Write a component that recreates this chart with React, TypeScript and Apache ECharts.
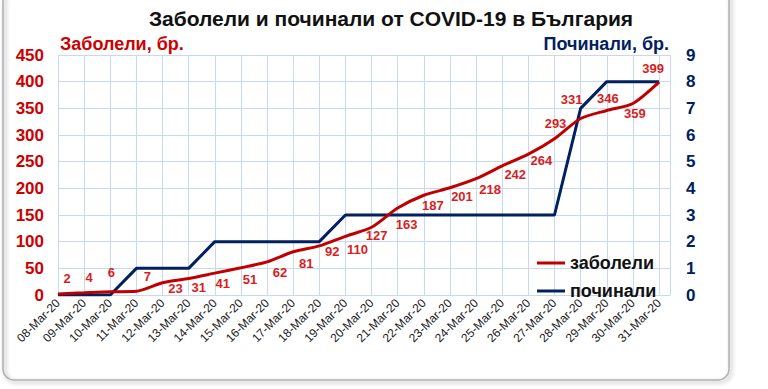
import React, { useEffect, useRef } from "react";
import * as echarts from "echarts";

const categories = [
  "08-Mar-20", "09-Mar-20", "10-Mar-20", "11-Mar-20", "12-Mar-20", "13-Mar-20",
  "14-Mar-20", "15-Mar-20", "16-Mar-20", "17-Mar-20", "18-Mar-20", "19-Mar-20",
  "20-Mar-20", "21-Mar-20", "22-Mar-20", "23-Mar-20", "24-Mar-20", "25-Mar-20",
  "26-Mar-20", "27-Mar-20", "28-Mar-20", "29-Mar-20", "30-Mar-20", "31-Mar-20",
];
const infected = [2, 4, 6, 7, 23, 31, 41, 51, 62, 81, 92, 110, 127, 163, 187, 201, 218, 242, 264, 293, 331, 346, 359, 399];
const deaths = [0, 0, 0, 1, 1, 1, 2, 2, 2, 2, 2, 3, 3, 3, 3, 3, 3, 3, 3, 3, 7, 8, 8, 8];
const leftTicks = { min: 0, max: 450, interval: 50 };
const rightTicks = { min: 0, max: 9, interval: 1 };
// label offsets (pixels) for the infected values
const labelOffsets = [
  [9, -15], [5, -15], [1, -19], [11, -15], [13, 6], [10, 9], [8, 10], [9, 12],
  [13, 11], [13, 12], [13, 6], [12, 13], [5, 8], [9, 16], [9, 10], [12, 9],
  [14, 11], [13, 9], [13, 6], [1, -15], [-9, -19], [1, -12], [2, 10], [-6, -14],
];

const RED = "#c00000";
const NAVY = "#002060";
const FONT = "'Liberation Sans', Arial, sans-serif";

export default function App() {
  const ref = useRef<HTMLDivElement>(null);
  useEffect(() => {
    if (!ref.current) return;
    const chart = echarts.init(ref.current, undefined, { renderer: "svg" });
    const gridLeft = 58;
    const gridRight = 98;
    const xMax = 23.42;
    chart.setOption({
      animation: false,
      backgroundColor: "#ffffff",
      textStyle: { fontFamily: FONT },
      title: {
        text: "Заболели и починали от COVID-19 в България",
        left: 386,
        textAlign: "center",
        top: 3,
        textStyle: { fontSize: 21, fontWeight: "bold", color: "#111", fontFamily: FONT },
      },
      graphic: [
        {
          type: "rect",
          z: -10,
          silent: true,
          shape: { x: 3, y: -12, width: 726, height: 392, r: 11 },
          style: {
            fill: "rgba(255,255,255,0)",
            stroke: "#b0b0b0",
            lineWidth: 1.5,
            shadowBlur: 4,
            shadowColor: "rgba(0,0,0,0.35)",
            shadowOffsetX: 2,
            shadowOffsetY: 2,
          },
        },
        {
          type: "text",
          left: 60,
          top: 35,
          style: { text: "Заболели, бр.", fill: "#cc0000", font: `bold 18px ${FONT}` },
        },
        {
          type: "text",
          right: 99,
          top: 35,
          style: { text: "Починали, бр.", fill: NAVY, font: `bold 18px ${FONT}` },
        },
      ],
      legend: {
        orient: "vertical",
        left: 532,
        top: 249,
        itemGap: 10,
        itemWidth: 28,
        itemHeight: 3,
        icon: "rect",
        textStyle: { fontSize: 18, fontWeight: "bold", color: "#111", fontFamily: FONT },
        data: ["заболели", "починали"],
      },
      grid: { left: gridLeft, right: gridRight, top: 55, bottom: 94 },
      xAxis: {
        type: "value",
        min: 0,
        max: xMax,
        interval: 1,
        axisLine: { show: true, lineStyle: { color: "#c6d9f1" } },
        axisTick: { show: false },
        splitLine: { show: true, lineStyle: { color: "#c6d9f1", width: 1 } },
        axisLabel: {
          rotate: 45,
          fontSize: 12,
          color: "#222",
          margin: 6,
          fontFamily: FONT,
          formatter: (v: number) => (Number.isInteger(v) && categories[v] ? categories[v] : ""),
        },
      },
      yAxis: [
        {
          type: "value",
          ...leftTicks,
          position: "left",
          axisLine: { show: false },
          axisTick: { show: false },
          splitLine: { show: true, lineStyle: { color: "#c6d9f1", width: 1 } },
          axisLabel: { color: "#cc0000", fontSize: 17, fontWeight: "bold", margin: 14, fontFamily: FONT },
        },
        {
          type: "value",
          ...rightTicks,
          position: "right",
          axisLine: { show: false },
          axisTick: { show: false },
          splitLine: { show: false },
          axisLabel: { color: NAVY, fontSize: 17, fontWeight: "bold", margin: 16, fontFamily: FONT },
        },
      ],
      series: [
        {
          name: "починали",
          type: "line",
          yAxisIndex: 1,
          data: deaths.map((v, i) => [i, v]),
          symbol: "none",
          lineStyle: { color: NAVY, width: 3 },
          itemStyle: { color: NAVY },
          z: 3,
        },
        {
          name: "заболели",
          type: "line",
          yAxisIndex: 0,
          smooth: 0.25,
          data: infected.map((v, i) => ({
            value: [i, v],
            label: { offset: labelOffsets[i] },
          })),
          symbol: "circle",
          symbolSize: 1,
          showSymbol: true,
          lineStyle: { color: RED, width: 3 },
          itemStyle: { color: RED },
          label: {
            show: true,
            position: "inside",
            color: "#d81e1e",
            fontSize: 13,
            fontWeight: "bold",
            fontFamily: FONT,
            formatter: (p: any) => String(p.value[1]),
          },
          z: 4,
        },
      ],
    });
    return () => chart.dispose();
  }, []);
  return (
    <div
      ref={ref}
      style={{ position: "fixed", left: 0, top: 0, width: 768, height: 389 }}
    />
  );
}
